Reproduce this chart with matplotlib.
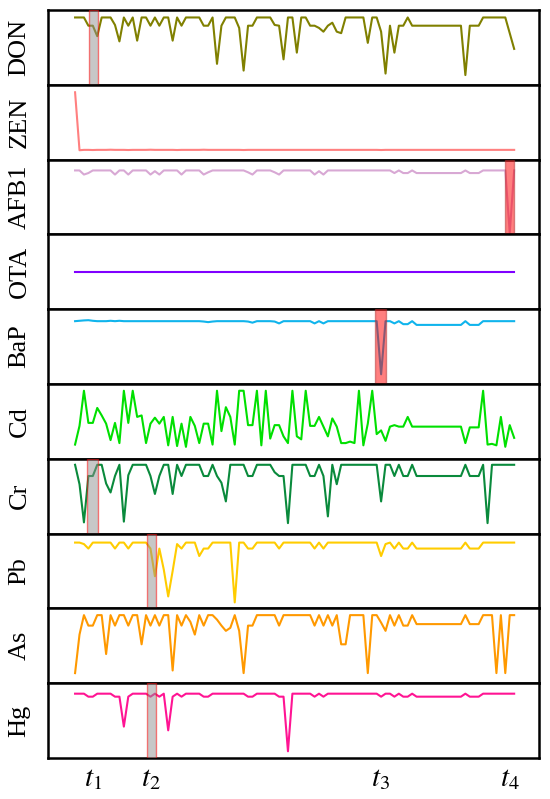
import matplotlib
matplotlib.use("Agg")
import matplotlib.pyplot as plt

plt.rcParams["mathtext.fontset"] = "stix"
plt.rcParams["font.family"] = ["Liberation Serif", "DejaVu Serif"]

# normalised concentration traces (0..1 inside each panel), 100 samples
don = [0.90, 0.90, 0.90, 0.79, 0.79, 0.65, 0.90, 0.90, 0.90, 0.80,
       0.58, 0.90, 0.79, 0.90, 0.59, 0.90, 0.90, 0.79, 0.90, 0.79,
       0.90, 0.90, 0.59, 0.90, 0.79, 0.90, 0.90, 0.90, 0.90, 0.79,
       0.79, 0.90, 0.28, 0.79, 0.90, 0.90, 0.90, 0.76, 0.19, 0.79,
       0.79, 0.90, 0.90, 0.90, 0.90, 0.80, 0.79, 0.34, 0.90, 0.90,
       0.43, 0.90, 0.90, 0.79, 0.79, 0.76, 0.71, 0.79, 0.83, 0.71,
       0.69, 0.90, 0.90, 0.90, 0.90, 0.90, 0.56, 0.90, 0.90, 0.71,
       0.15, 0.79, 0.43, 0.79, 0.79, 0.90, 0.79, 0.79, 0.79, 0.79,
       0.79, 0.79, 0.79, 0.79, 0.79, 0.79, 0.79, 0.79, 0.13, 0.79,
       0.79, 0.79, 0.90, 0.90, 0.90, 0.90, 0.90, 0.90, 0.69, 0.48]

zen = [0.90, 0.125, 0.13, 0.13, 0.128, 0.13, 0.13, 0.13, 0.132, 0.13,
       0.13, 0.13, 0.128, 0.13, 0.13, 0.13, 0.13, 0.132, 0.13, 0.13,
       0.13, 0.13, 0.13, 0.128, 0.13, 0.13, 0.13, 0.13, 0.13, 0.132,
       0.13, 0.13, 0.13, 0.13, 0.13, 0.13, 0.13, 0.13, 0.128, 0.13,
       0.13, 0.13, 0.13, 0.13, 0.13, 0.13, 0.13, 0.13, 0.13, 0.13,
       0.13, 0.13, 0.13, 0.13, 0.13, 0.13, 0.13, 0.13, 0.13, 0.13,
       0.13, 0.13, 0.13, 0.13, 0.13, 0.13, 0.13, 0.13, 0.13, 0.128,
       0.13, 0.13, 0.13, 0.13, 0.13, 0.13, 0.13, 0.13, 0.13, 0.13,
       0.13, 0.13, 0.13, 0.13, 0.13, 0.13, 0.13, 0.13, 0.13, 0.13,
       0.13, 0.13, 0.13, 0.13, 0.13, 0.13, 0.13, 0.13, 0.13, 0.13]

afb1 = [0.855, 0.855, 0.80, 0.82, 0.855, 0.855, 0.855, 0.855, 0.855, 0.80,
        0.855, 0.855, 0.80, 0.855, 0.855, 0.855, 0.855, 0.80, 0.845, 0.80,
        0.855, 0.855, 0.855, 0.855, 0.80, 0.855, 0.855, 0.855, 0.855, 0.80,
        0.83, 0.855, 0.855, 0.855, 0.855, 0.855, 0.855, 0.855, 0.855, 0.83,
        0.80, 0.855, 0.855, 0.855, 0.855, 0.83, 0.80, 0.855, 0.855, 0.855,
        0.855, 0.855, 0.855, 0.855, 0.80, 0.845, 0.80, 0.855, 0.855, 0.855,
        0.855, 0.855, 0.855, 0.855, 0.855, 0.855, 0.855, 0.855, 0.855, 0.855,
        0.855, 0.855, 0.82, 0.855, 0.82, 0.82, 0.855, 0.82, 0.82, 0.82,
        0.82, 0.82, 0.82, 0.82, 0.82, 0.82, 0.82, 0.82, 0.855, 0.82,
        0.82, 0.82, 0.855, 0.855, 0.855, 0.855, 0.855, 0.855, 0.02, 0.855]

ota = [0.50] * 100

bap = [0.84, 0.845, 0.85, 0.853, 0.845, 0.84, 0.84, 0.84, 0.845, 0.84,
       0.845, 0.84, 0.84, 0.84, 0.84, 0.84, 0.84, 0.84, 0.84, 0.84,
       0.84, 0.84, 0.84, 0.84, 0.84, 0.84, 0.84, 0.84, 0.84, 0.835,
       0.827, 0.835, 0.84, 0.84, 0.84, 0.84, 0.84, 0.84, 0.84, 0.835,
       0.82, 0.84, 0.84, 0.84, 0.84, 0.835, 0.81, 0.84, 0.84, 0.84,
       0.84, 0.84, 0.84, 0.84, 0.81, 0.84, 0.81, 0.84, 0.84, 0.84,
       0.84, 0.84, 0.84, 0.84, 0.84, 0.84, 0.84, 0.84, 0.84, 0.13,
       0.84, 0.84, 0.81, 0.84, 0.80, 0.80, 0.84, 0.79, 0.79, 0.79,
       0.79, 0.79, 0.79, 0.79, 0.79, 0.79, 0.79, 0.79, 0.84, 0.79,
       0.79, 0.79, 0.84, 0.84, 0.84, 0.84, 0.84, 0.84, 0.84, 0.84]

cd = [0.19, 0.44, 0.91, 0.48, 0.48, 0.68, 0.58, 0.47, 0.25, 0.48,
      0.21, 0.91, 0.48, 0.91, 0.56, 0.58, 0.21, 0.47, 0.55, 0.47,
      0.56, 0.18, 0.56, 0.17, 0.47, 0.16, 0.56, 0.44, 0.21, 0.47,
      0.47, 0.19, 0.91, 0.37, 0.69, 0.56, 0.19, 0.91, 0.91, 0.45,
      0.45, 0.91, 0.18, 0.91, 0.27, 0.45, 0.45, 0.30, 0.21, 0.91,
      0.30, 0.26, 0.91, 0.44, 0.44, 0.56, 0.43, 0.30, 0.54, 0.43,
      0.21, 0.21, 0.23, 0.21, 0.91, 0.18, 0.47, 0.91, 0.33, 0.38,
      0.24, 0.43, 0.45, 0.43, 0.43, 0.56, 0.43, 0.43, 0.43, 0.43,
      0.43, 0.43, 0.43, 0.43, 0.43, 0.43, 0.43, 0.43, 0.21, 0.42,
      0.42, 0.42, 0.91, 0.19, 0.20, 0.18, 0.56, 0.16, 0.45, 0.28]

cr = [0.92, 0.66, 0.15, 0.77, 0.77, 0.92, 0.92, 0.67, 0.55, 0.77,
      0.92, 0.16, 0.78, 0.92, 0.92, 0.92, 0.92, 0.77, 0.53, 0.77,
      0.92, 0.92, 0.53, 0.92, 0.77, 0.92, 0.92, 0.92, 0.92, 0.77,
      0.77, 0.92, 0.77, 0.68, 0.43, 0.92, 0.92, 0.92, 0.92, 0.77,
      0.77, 0.92, 0.92, 0.92, 0.92, 0.82, 0.77, 0.77, 0.14, 0.92,
      0.92, 0.92, 0.92, 0.77, 0.77, 0.92, 0.77, 0.23, 0.92, 0.66,
      0.92, 0.92, 0.92, 0.92, 0.92, 0.92, 0.92, 0.92, 0.92, 0.43,
      0.92, 0.92, 0.77, 0.92, 0.77, 0.77, 0.92, 0.77, 0.77, 0.77,
      0.77, 0.77, 0.77, 0.77, 0.77, 0.77, 0.77, 0.77, 0.92, 0.77,
      0.77, 0.77, 0.92, 0.14, 0.92, 0.92, 0.92, 0.92, 0.92, 0.92]

pb = [0.88, 0.88, 0.86, 0.80, 0.88, 0.88, 0.88, 0.88, 0.88, 0.80,
      0.88, 0.88, 0.80, 0.88, 0.88, 0.88, 0.88, 0.80, 0.43, 0.80,
      0.52, 0.16, 0.50, 0.86, 0.80, 0.88, 0.88, 0.88, 0.70, 0.80,
      0.80, 0.88, 0.88, 0.88, 0.88, 0.88, 0.08, 0.88, 0.88, 0.80,
      0.80, 0.88, 0.88, 0.88, 0.88, 0.88, 0.80, 0.88, 0.88, 0.88,
      0.88, 0.88, 0.88, 0.88, 0.80, 0.88, 0.80, 0.88, 0.88, 0.88,
      0.88, 0.88, 0.88, 0.88, 0.88, 0.88, 0.88, 0.88, 0.88, 0.70,
      0.86, 0.88, 0.80, 0.88, 0.80, 0.80, 0.88, 0.80, 0.80, 0.80,
      0.80, 0.80, 0.80, 0.80, 0.80, 0.80, 0.80, 0.80, 0.88, 0.80,
      0.80, 0.80, 0.88, 0.88, 0.88, 0.88, 0.88, 0.88, 0.88, 0.88]

as_ = [0.135, 0.65, 0.91, 0.77, 0.77, 0.91, 0.91, 0.39, 0.91, 0.77,
       0.91, 0.91, 0.77, 0.91, 0.91, 0.52, 0.91, 0.77, 0.91, 0.77,
       0.91, 0.91, 0.17, 0.91, 0.77, 0.91, 0.82, 0.65, 0.91, 0.77,
       0.91, 0.91, 0.85, 0.77, 0.70, 0.74, 0.91, 0.70, 0.135, 0.77,
       0.77, 0.91, 0.91, 0.91, 0.91, 0.91, 0.77, 0.91, 0.91, 0.91,
       0.91, 0.91, 0.91, 0.91, 0.77, 0.91, 0.77, 0.91, 0.77, 0.91,
       0.52, 0.52, 0.91, 0.91, 0.91, 0.91, 0.135, 0.91, 0.91, 0.81,
       0.70, 0.91, 0.77, 0.91, 0.77, 0.77, 0.91, 0.79, 0.79, 0.79,
       0.79, 0.79, 0.79, 0.79, 0.79, 0.79, 0.79, 0.79, 0.91, 0.79,
       0.79, 0.79, 0.91, 0.91, 0.91, 0.135, 0.91, 0.135, 0.91, 0.91]

hg = [0.86, 0.86, 0.86, 0.82, 0.82, 0.86, 0.86, 0.86, 0.86, 0.82,
      0.82, 0.42, 0.82, 0.86, 0.86, 0.86, 0.86, 0.82, 0.86, 0.82,
      0.86, 0.37, 0.82, 0.86, 0.82, 0.86, 0.86, 0.86, 0.86, 0.82,
      0.82, 0.86, 0.86, 0.86, 0.86, 0.86, 0.86, 0.86, 0.86, 0.82,
      0.82, 0.86, 0.86, 0.86, 0.86, 0.86, 0.82, 0.82, 0.09, 0.86,
      0.86, 0.86, 0.86, 0.86, 0.82, 0.86, 0.82, 0.86, 0.86, 0.86,
      0.86, 0.86, 0.86, 0.86, 0.86, 0.86, 0.86, 0.86, 0.86, 0.82,
      0.86, 0.86, 0.82, 0.86, 0.82, 0.82, 0.86, 0.82, 0.82, 0.82,
      0.82, 0.82, 0.82, 0.82, 0.82, 0.82, 0.82, 0.82, 0.86, 0.82,
      0.82, 0.82, 0.86, 0.86, 0.86, 0.86, 0.86, 0.86, 0.86, 0.86]

names = ["DON", "ZEN", "AFB1", "OTA", "BaP", "Cd", "Cr", "Pb", "As", "Hg"]
series = [don, zen, afb1, ota, bap, cd, cr, pb, as_, hg]
colors = ["#808000", "#ff8080", "#d8a8d4", "#8000ff", "#10b4ec",
          "#00e000", "#0a8a3c", "#ffcc00", "#ff9900", "#ff1493"]

# anomaly windows (sample index ranges) per panel
spans = {"DON": [(3.1, 5.1, "gray")],
         "AFB1": [(96.9, 99.0, "red")],
         "BaP": [(67.6, 70.0, "red")],
         "Cr": [(2.8, 5.2, "gray")],
         "Pb": [(16.2, 18.2, "gray")],
         "Hg": [(16.2, 18.2, "gray")]}

tick_pos = [4.1, 17.2, 68.8, 98.0]
tick_lab = ["$t_1$", "$t_2$", "$t_3$", "$t_4$"]

fig, axes = plt.subplots(len(names), 1, figsize=(5.5, 7.99), dpi=100, sharex=True)
fig.subplots_adjust(left=0.0873, right=0.98, top=0.9875, bottom=0.0513, hspace=0)

x = list(range(100))
for ax, name, y, c in zip(axes, names, series, colors):
    ax.plot(x, y, color=c, lw=1.5, zorder=2)
    for a, b, kind in spans.get(name, []):
        if kind == "gray":
            ax.axvspan(a, b, facecolor="#909090", edgecolor="red", alpha=0.5, lw=1.0, zorder=3)
        else:
            ax.axvspan(a, b, facecolor="red", edgecolor="#b03030", alpha=0.5, lw=1.0, zorder=3)
    ax.set_ylim(0, 1)
    ax.set_xlim(-6.1, 104.6)
    ax.set_yticks([])
    ax.set_ylabel(name, fontsize=19, va="center")
    ax.yaxis.set_label_coords(-0.058, 0.5)
    for s in ax.spines.values():
        s.set_linewidth(1.8)
    ax.tick_params(axis="x", length=0)

axes[-1].set_xticks(tick_pos)
axes[-1].set_xticklabels(tick_lab, fontsize=21)
axes[-1].tick_params(axis="x", pad=6)

fig.savefig("out.png", dpi=100)
